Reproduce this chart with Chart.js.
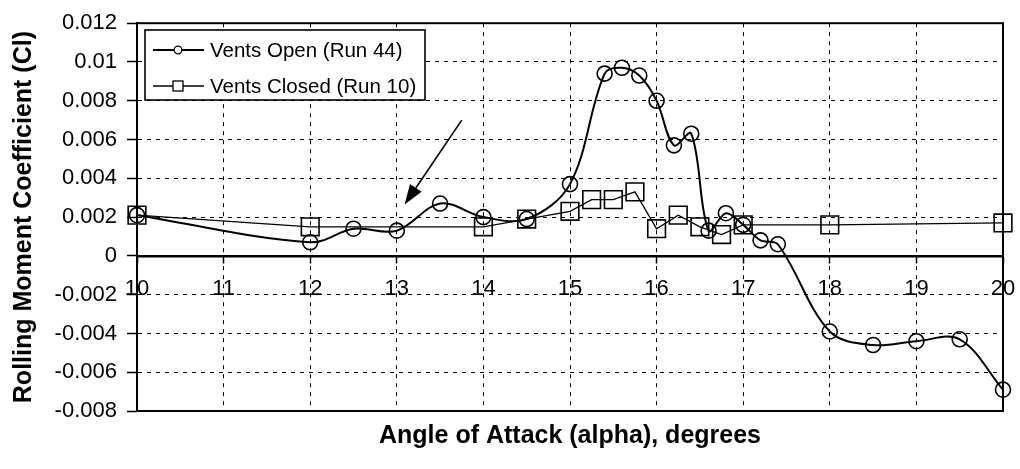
<!DOCTYPE html>
<html>
<head>
<meta charset="utf-8">
<script src="https://cdn.jsdelivr.net/npm/chart.js@4.4.0/dist/chart.umd.min.js"></script>
<style>
html,body{margin:0;padding:0;background:#fff;}
#wrap{width:1020px;height:469px;position:relative;}
</style>
</head>
<body>
<div id="wrap"><canvas id="c" width="1020" height="469"></canvas></div>
<script>
// ---- data ----
const openLabel = 'Vents Open (Run 44)';
const openX = [10, 12, 12.5, 13, 13.5, 14, 14.5, 15, 15.4, 15.6, 15.8, 16, 16.2, 16.4, 16.6, 16.8, 17, 17.2, 17.4, 18, 18.5, 19, 19.5, 20];
const openY = [0.0021, 0.0007, 0.0014, 0.0013, 0.0027, 0.0020, 0.0019, 0.0037, 0.0094, 0.0097, 0.0093, 0.0080, 0.0057, 0.0063, 0.0013, 0.0022, 0.0016, 0.0008, 0.0006, -0.0039, -0.0046, -0.0044, -0.0043, -0.0069];

const closedLabel = 'Vents Closed (Run 10)';
const closedX = [10, 12, 14, 14.5, 15, 15.25, 15.5, 15.75, 16, 16.25, 16.5, 16.75, 17, 18, 20];
const closedY = [0.0021, 0.0015, 0.0015, 0.0019, 0.0023, 0.0029, 0.0029, 0.0033, 0.0014, 0.0021, 0.0015, 0.0011, 0.0016, 0.0016, 0.0017];

const xTicks = [10, 11, 12, 13, 14, 15, 16, 17, 18, 19, 20];
const yTicks = [0.012, 0.01, 0.008, 0.006, 0.004, 0.002, 0, -0.002, -0.004, -0.006, -0.008];

const xTitle = 'Angle of Attack (alpha), degrees';
const yTitle = 'Rolling Moment Coefficient (Cl)';

// annotation arrow (data coordinates): from tail to tip
const arrowX = [13.75, 13.09];
const arrowY = [0.0070, 0.00265];

// ---- build ----
const toPts = (xs, ys) => xs.map((x, i) => ({x: x, y: ys[i]}));
const FONT = "'Liberation Sans', Arial, Helvetica, sans-serif";
Chart.defaults.font.family = FONT;
Chart.defaults.color = '#000';

const framePlugin = {
  id: 'frame',
  beforeDatasetsDraw(chart) {
    const {ctx, chartArea: a} = chart;
    ctx.save();
    ctx.strokeStyle = '#000';
    ctx.lineWidth = 2;
    ctx.strokeRect(a.left, a.top, a.right - a.left, a.bottom - a.top);
    ctx.restore();
  }
};

const arrowPlugin = {
  id: 'arrow',
  afterDatasetsDraw(chart) {
    const {ctx, scales} = chart;
    const x1 = scales.x.getPixelForValue(arrowX[0]), y1 = scales.y.getPixelForValue(arrowY[0]);
    const x2 = scales.x.getPixelForValue(arrowX[1]), y2 = scales.y.getPixelForValue(arrowY[1]);
    const ang = Math.atan2(y2 - y1, x2 - x1);
    const L = 20, W = 7;
    const bx = x2 - L * Math.cos(ang), by = y2 - L * Math.sin(ang);
    ctx.save();
    ctx.strokeStyle = '#000';
    ctx.fillStyle = '#000';
    ctx.lineWidth = 1.6;
    ctx.beginPath();
    ctx.moveTo(x1, y1);
    ctx.lineTo(bx, by);
    ctx.stroke();
    ctx.beginPath();
    ctx.moveTo(x2, y2);
    ctx.lineTo(bx + W * Math.sin(ang), by - W * Math.cos(ang));
    ctx.lineTo(bx - W * Math.sin(ang), by + W * Math.cos(ang));
    ctx.closePath();
    ctx.fill();
    ctx.restore();
  }
};

const legendPlugin = {
  id: 'boxLegend',
  afterDraw(chart) {
    const {ctx} = chart;
    const bx = 145, by = 30, bw = 280, bh = 70;
    ctx.save();
    ctx.fillStyle = '#fff';
    ctx.fillRect(bx, by, bw, bh);
    ctx.strokeStyle = '#000';
    ctx.lineWidth = 1.6;
    ctx.strokeRect(bx, by, bw, bh);
    const rows = [50, 86];
    chart.data.datasets.forEach((ds, i) => {
      const y = rows[i];
      ctx.strokeStyle = '#000';
      ctx.lineWidth = ds.borderWidth;
      ctx.beginPath();
      ctx.moveTo(153, y);
      ctx.lineTo(204, y);
      ctx.stroke();
      ctx.lineWidth = 1.3;
      ctx.fillStyle = '#fff';
      if (ds.pointStyle === 'rect') {
        ctx.fillRect(173, y - 5, 10, 10);
        ctx.strokeRect(173, y - 5, 10, 10);
      } else {
        ctx.beginPath();
        ctx.arc(178, y, 3.8, 0, Math.PI * 2);
        ctx.fill();
        ctx.stroke();
      }
      ctx.fillStyle = '#000';
      ctx.font = '20.5px ' + FONT;
      ctx.textAlign = 'left';
      ctx.textBaseline = 'middle';
      ctx.fillText(ds.label, 210, y + 1);
    });
    ctx.restore();
  }
};

new Chart(document.getElementById('c'), {
  type: 'line',
  data: {
    datasets: [
      {
        label: openLabel,
        data: toPts(openX, openY),
        borderColor: '#000',
        borderWidth: 2,
        tension: 0.35,
        pointStyle: 'circle',
        pointRadius: 7.5,
        pointBorderWidth: 1.6,
        pointBorderColor: '#000',
        pointBackgroundColor: 'rgba(0,0,0,0)',
        clip: false
      },
      {
        label: closedLabel,
        data: toPts(closedX, closedY),
        borderColor: '#000',
        borderWidth: 1.3,
        tension: 0,
        pointStyle: 'rect',
        pointRadius: 12.5,
        pointBorderWidth: 1.6,
        pointBorderColor: '#000',
        pointBackgroundColor: 'rgba(0,0,0,0)',
        clip: false
      }
    ]
  },
  options: {
    responsive: false,
    animation: false,
    events: [],
    layout: {padding: {left: 0, right: 17, top: 21, bottom: 0}},
    plugins: {
      legend: {display: false},
      tooltip: {enabled: false}
    },
    scales: {
      x: {
        type: 'linear',
        position: {y: 0},
        min: 10,
        max: 20,
        afterBuildTicks(scale) { scale.ticks = xTicks.map(v => ({value: v})); },
        afterFit(scale) { scale.paddingLeft = 0; scale.paddingRight = 0; scale.paddingTop = 0; scale.paddingBottom = 0; },
        ticks: {
          font: {size: 22},
          color: '#000',
          padding: 14,
          maxRotation: 0,
          autoSkip: false,
          callback: v => String(v)
        },
        grid: {
          color: '#000',
          lineWidth: 1,
          drawTicks: true,
          tickLength: 6,
          tickColor: '#000',
          tickWidth: 1.5
        },
        border: {display: true, color: '#000', width: 2.5, dash: [4, 5]}
      },
      xTitleAxis: {
        type: 'linear',
        axis: 'x',
        position: 'bottom',
        min: 10,
        max: 20,
        ticks: {display: false},
        grid: {display: false, drawTicks: false},
        border: {display: false},
        afterFit(scale) { scale.paddingLeft = 0; scale.paddingRight = 0; },
        title: {
          display: true,
          text: xTitle,
          color: '#000',
          font: {size: 25, weight: 'bold', family: FONT},
          padding: {top: 10, bottom: 18}
        }
      },
      y: {
        type: 'linear',
        position: 'left',
        min: -0.008,
        max: 0.012,
        afterBuildTicks(scale) { scale.ticks = yTicks.map(v => ({value: v})); },
        afterFit(scale) { scale.width = 137; },
        ticks: {
          font: {size: 22},
          color: '#000',
          padding: 10,
          callback: v => String(Number(v.toFixed(3)))
        },
        grid: {
          color: '#000',
          lineWidth: 1,
          drawTicks: true,
          tickLength: 10,
          tickColor: '#000',
          tickWidth: 1.5
        },
        border: {display: true, color: '#000', width: 2, dash: [4, 5]},
        title: {
          display: true,
          text: yTitle,
          color: '#000',
          font: {size: 25, weight: 'bold', family: FONT},
          padding: {top: 9, bottom: 0}
        }
      }
    }
  },
  plugins: [framePlugin, arrowPlugin, legendPlugin]
});
</script>
</body>
</html>
